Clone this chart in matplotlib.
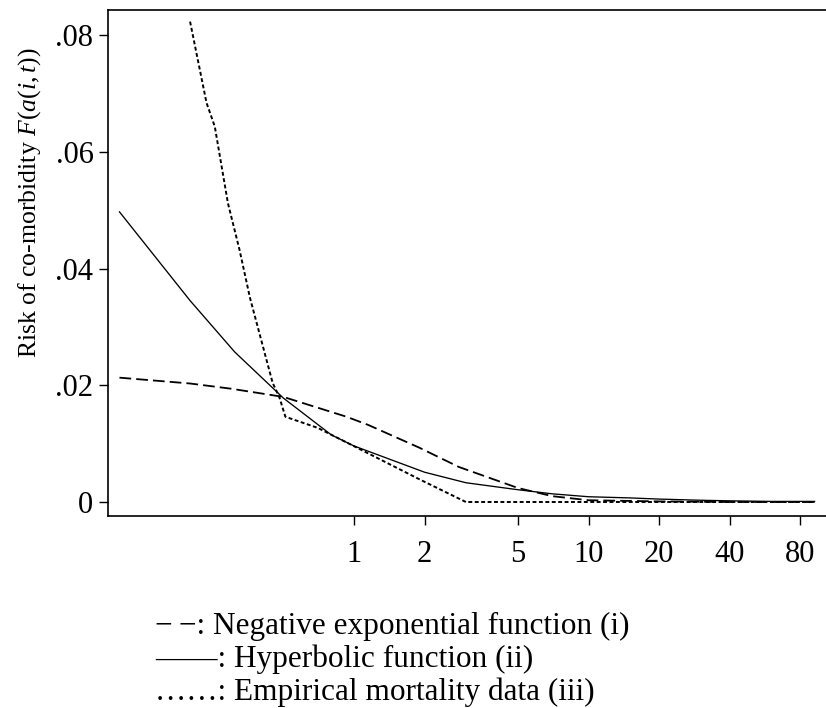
import numpy as np
import matplotlib.pyplot as plt
from matplotlib.ticker import FixedLocator, FixedFormatter, NullLocator

plt.rcParams['font.family'] = 'Liberation Serif'
plt.rcParams['mathtext.fontset'] = 'custom'
plt.rcParams['mathtext.rm'] = 'Liberation Serif'
plt.rcParams['mathtext.it'] = 'Liberation Serif:italic'

# negative exponential function (i)
x_negexp = [0.1, 0.2, 0.3, 0.5, 0.6, 0.93, 1.15, 1.9, 2.8, 5.0, 7.0, 10, 20, 40, 92]
y_negexp = [0.0213, 0.0203, 0.0194, 0.0180, 0.0170, 0.0146, 0.0132, 0.0093, 0.0060, 0.0024, 0.0010, 0.0003, 0.0001, 0.0, 0.0]

# hyperbolic function (ii)
x_hyper = [0.1, 0.2, 0.31, 0.5, 0.8, 1.0, 2.0, 3.0, 5.0, 7.0, 10, 15, 20, 30, 40, 60, 92]
y_hyper = [0.0497, 0.0345, 0.0257, 0.0178, 0.0115, 0.0096, 0.0051, 0.0033, 0.0021, 0.0014, 0.0009, 0.0007, 0.0005, 0.0003, 0.0002, 0.0001, 0.0001]

# empirical mortality data (iii)
x_emp = [0.2, 0.235, 0.255, 0.29, 0.325, 0.36, 0.42, 0.45, 0.48, 0.51, 0.7, 1.03, 1.92, 3.0, 5, 10, 20, 40, 92]
y_emp = [0.0823, 0.0684, 0.0643, 0.0512, 0.0432, 0.0350, 0.0249, 0.0204, 0.0180, 0.0146, 0.0127, 0.0093, 0.0038, 0.0, 0.0, 0.0, 0.0, 0.0, 0.0]

xticks = [1, 2, 5, 10, 20, 40, 80]
yticks = [0, 0.02, 0.04, 0.06, 0.08]
ytick_labels = ['0', '.02', '.04', '.06', '.08']

W, H = 826, 708
fig = plt.figure(figsize=(W / 100, H / 100), dpi=100)
# axes box in pixels: left 108, right past the edge, top 10, bottom 516
ax = fig.add_axes([108 / W, 1 - 516 / H, (834 - 108) / W, (516 - 10) / H])

ax.plot(x_negexp, y_negexp, color='black', lw=1.3, linestyle=(0, (6.5, 2.8)))
ax.plot(x_hyper, y_hyper, color='black', lw=0.95, linestyle='-')
ax.plot(x_emp, y_emp, color='black', lw=1.4, linestyle=(0, (2.0, 1.3)))

ax.set_xscale('log')
px_per_dbl = 70.6
ax.set_xlim(2 ** (-(354 - 108) / px_per_dbl), 2 ** ((834 - 354) / px_per_dbl))
ax.set_ylim(-14 / 116.7 * 0.02, 0.08 + 25 / 116.7 * 0.02)

ax.xaxis.set_major_locator(FixedLocator(xticks))
ax.xaxis.set_major_formatter(FixedFormatter([str(t) for t in xticks]))
ax.xaxis.set_minor_locator(NullLocator())
ax.yaxis.set_major_locator(FixedLocator(yticks))
ax.yaxis.set_major_formatter(FixedFormatter(ytick_labels))

ax.tick_params(axis='both', direction='out', length=6.5, width=1.0, labelsize=22, colors='black')
ax.tick_params(axis='x', pad=11)
ax.tick_params(axis='y', pad=4)
ax.spines['right'].set_visible(False)
for s in ['left', 'top', 'bottom']:
    ax.spines[s].set_linewidth(1.2)

fig.text(30 / W, 1 - 203 / H, r'Risk of co-morbidity $F(a(i,t))$', rotation=90,
         ha='center', va='center', fontsize=18.5)

legend_rows = ['\u2212\u2009\u2212: Negative exponential function (i)',
               '\u2014\u2014: Hyperbolic function (ii)',
               '\u2026\u2026: Empirical mortality data (iii)']
for i, row in enumerate(legend_rows):
    fig.text(155 / W, 1 - (634 + 33 * i) / H, row, ha='left', va='baseline', fontsize=22.5)

fig.savefig('out.png', dpi=100)
